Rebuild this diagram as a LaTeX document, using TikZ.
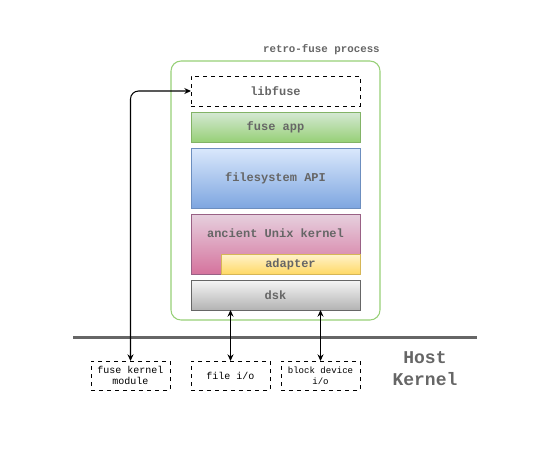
\documentclass[tikz,border=0pt]{standalone}
\usepackage{fontspec}
\setmonofont{Liberation Mono}
\usepackage{tikz}
\usetikzlibrary{positioning,arrows.meta,shadings}

\definecolor{txtgray}{HTML}{666666}
\definecolor{procgreen}{HTML}{97D077}
\definecolor{appTop}{HTML}{D5E8D4}
\definecolor{appBot}{HTML}{97D077}
\definecolor{appLine}{HTML}{82B366}
\definecolor{apiTop}{HTML}{DAE8FC}
\definecolor{apiBot}{HTML}{7EA6E0}
\definecolor{apiLine}{HTML}{6C8EBF}
\definecolor{kTop}{HTML}{E6D0DE}
\definecolor{kBot}{HTML}{D5739D}
\definecolor{kLine}{HTML}{996185}
\definecolor{adTop}{HTML}{FFF2CC}
\definecolor{adBot}{HTML}{FFD966}
\definecolor{adLine}{HTML}{D6B656}
\definecolor{dskTop}{HTML}{F5F5F5}
\definecolor{dskBot}{HTML}{B3B3B3}

\begin{document}
\begin{tikzpicture}[
    x=0.75pt, y=-0.75pt,
    node distance=4.5pt,
    layer/.style={draw, minimum width=126.75pt, minimum height=22.5pt, inner sep=0pt, outer sep=0pt,
      text=txtgray, font=\ttfamily\bfseries\fontsize{9}{11}\selectfont},
    hostbox/.style={draw, dashed, minimum width=59.25pt, minimum height=21.75pt, inner sep=0pt, outer sep=0pt,
      align=center, font=\ttfamily\fontsize{7.5}{8.5}\selectfont},
    link/.style={{Stealth[length=5pt,width=4.5pt]}-{Stealth[length=5pt,width=4.5pt]}, thick}
]
\useasboundingbox (0,0) rectangle (551,451);

% the process
\node[draw=procgreen, line width=0.8pt, rounded corners=7.5pt, minimum width=156.75pt, minimum height=194.25pt,
      inner sep=0pt, outer sep=0pt] (proc) at (275.5,190.5) {};
\node[anchor=south east, inner sep=0pt, text=txtgray, font=\ttfamily\bfseries\fontsize{8.1}{9.5}\selectfont]
      (proctitle) at (380,55) {retro-fuse process};

\node[layer, dashed] (libfuse) at (275.5,91) {libfuse};
\node[layer, draw=appLine, top color=appTop, bottom color=appBot] (app) [below=of libfuse] {fuse app};
\node[layer, draw=apiLine, top color=apiTop, bottom color=apiBot, minimum height=45pt] (api) [below=of app] {filesystem API};
\node[layer, draw=kLine, top color=kTop, bottom color=kBot, minimum height=45pt, text depth=16pt] (kernel) [below=of api] {ancient Unix kernel};
\node[layer, draw=adLine, top color=adTop, bottom color=adBot, minimum width=104.25pt, minimum height=15pt,
      anchor=south east] (adapter) at (kernel.south east) {adapter};
\node[layer, draw=txtgray, top color=dskTop, bottom color=dskBot] (dsk) [below=of kernel] {dsk};

% host side
\coordinate (hostL) at (73,337);
\coordinate (hostR) at (477,337);
\draw[txtgray, line width=2.25pt] (hostL) -- (hostR);

\node[hostbox] (fkm) at (130.5,375.5) {fuse kernel\\module};
\node[hostbox] (fileio) at (230.5,375.5) {file i/o};
\node[hostbox, font=\ttfamily\fontsize{6.8}{8.2}\selectfont] (blockio) at (320.5,375.5) {block device\\i/o};
\node[text=txtgray, align=center, font=\ttfamily\bfseries\fontsize{13.5}{16.5}\selectfont] (host) at (425,369) {Host\\Kernel};

\draw[link, rounded corners=6pt] (fkm.north) |- (libfuse.west);
\draw[link] (fileio.north) -- (fileio.north |- dsk.south);
\draw[link] (blockio.north) -- (blockio.north |- dsk.south);
\end{tikzpicture}
\end{document}
